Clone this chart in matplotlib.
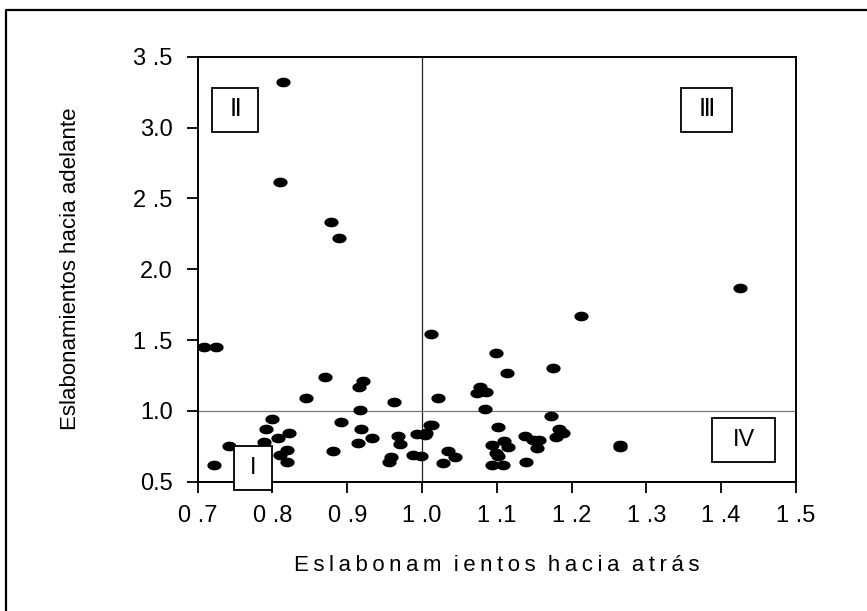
import numpy as np
import matplotlib
matplotlib.use('Agg')
import matplotlib.pyplot as plt
from matplotlib.path import Path
from matplotlib.patches import Rectangle
from matplotlib.lines import Line2D

plt.rcParams['font.family'] = ['Liberation Sans', 'DejaVu Sans']

# backward linkages (x) and forward linkages (y) per sector
backward = [0.709, 0.725, 0.722, 0.742, 0.845, 0.870, 0.921, 0.916, 0.917, 0.799,
            0.792, 0.789, 0.808, 0.822, 0.819, 0.810, 0.819, 0.881, 0.891, 0.918,
            0.914, 0.933, 0.962, 0.968, 0.971, 0.958, 0.956, 0.988, 0.999, 0.993,
            1.006, 1.011, 1.012, 1.099, 1.114, 1.077, 1.074, 1.085, 1.022, 1.084,
            1.014, 1.004, 1.035, 1.044, 1.028, 1.102, 1.093, 1.109, 1.115, 1.099,
            1.102, 1.093, 1.108, 1.138, 1.149, 1.156, 1.154, 1.139, 1.175, 1.173,
            1.183, 1.189, 1.179, 1.265, 1.265, 1.212, 1.425, 0.814, 0.810, 0.878,
            0.889]
forward = [1.449, 1.449, 0.618, 0.754, 1.089, 1.237, 1.211, 1.166, 1.006, 0.940,
           0.870, 0.780, 0.811, 0.846, 0.722, 0.688, 0.641, 0.714, 0.923, 0.870,
           0.775, 0.808, 1.065, 0.823, 0.768, 0.672, 0.641, 0.688, 0.684, 0.837,
           0.842, 0.900, 1.542, 1.406, 1.265, 1.166, 1.128, 1.131, 1.089, 1.015,
           0.900, 0.830, 0.714, 0.672, 0.634, 0.886, 0.759, 0.787, 0.743, 0.705,
           0.681, 0.618, 0.618, 0.823, 0.794, 0.794, 0.736, 0.641, 1.300, 0.964,
           0.870, 0.842, 0.818, 0.760, 0.745, 1.669, 1.865, 3.319, 2.613, 2.333,
           2.218]

xticks = [0.7, 0.8, 0.9, 1.0, 1.1, 1.2, 1.3, 1.4, 1.5]
xticklabels = ['0 .7', '0 .8', '0 .9', '1 .0', '1 .1', '1 .2', '1 .3', '1 .4', '1 .5']
yticks = [0.5, 1.0, 1.5, 2.0, 2.5, 3.0, 3.5]
yticklabels = ['0.5', '1.0', '1 .5', '2.0', '2 .5', '3.0', '3 .5']

fig = plt.figure(figsize=(8.67, 6.11), dpi=100)
ax = fig.add_axes([0.228, 0.2116, 0.690, 0.6956])

# flat ellipse marker
t = np.linspace(0, 2 * np.pi, 40)
ell = Path(np.column_stack([np.cos(t), 0.68 * np.sin(t)]))

ax.axvline(1.0, color='#222222', lw=0.9, zorder=1)
ax.axhline(1.0, color='#777777', lw=0.9, zorder=1)
ax.scatter(backward, forward, s=105, marker=ell, color='black', lw=0, zorder=3)

ax.set_xlim(0.7, 1.5)
ax.set_ylim(0.5, 3.5)
ax.set_xticks(xticks)
ax.set_xticklabels(xticklabels, fontsize=17)
ax.set_yticks(yticks)
ax.set_yticklabels(yticklabels, fontsize=17)
ax.tick_params(direction='out', length=8, width=1.3)
ax.tick_params(axis='x', pad=9)
ax.tick_params(axis='y', pad=10)
for s in ax.spines.values():
    s.set_linewidth(1.4)

ax.set_xlabel('E\u2009s\u2009l\u2009a\u2009b\u2009o\u2009n\u2009a\u2009m  i\u2009e\u2009n\u2009t\u2009o\u2009s  h\u2009a\u2009c\u2009i\u2009a  a\u2009t\u2009r\u2009á\u2009s',
              fontsize=16, labelpad=20)
ax.set_ylabel('Eslabonamientos hacia adelante', fontsize=16, labelpad=38)

# quadrant boxes
boxes = [('Ⅱ', 0.719, 2.97, 0.062, 0.31),
         ('Ⅲ', 1.347, 2.97, 0.068, 0.31),
         ('IV', 1.388, 0.637, 0.084, 0.31),
         ('I', 0.748, 0.441, 0.052, 0.31)]
for lab, x0, y0, w, h in boxes:
    ax.add_patch(Rectangle((x0, y0), w, h, facecolor='white', edgecolor='black',
                           lw=1.3, zorder=4, clip_on=False))
    ax.text(x0 + w / 2, y0 + h / 2, lab, ha='center', va='center',
            fontsize=17, zorder=5, clip_on=False)

# outer frame (left and top edges visible)
fig.add_artist(Line2D([6 / 867, 6 / 867, 1.0], [0.0, 1 - 10 / 611, 1 - 10 / 611],
                      transform=fig.transFigure, color='black', lw=1.6))

fig.savefig('out.png', dpi=100)
